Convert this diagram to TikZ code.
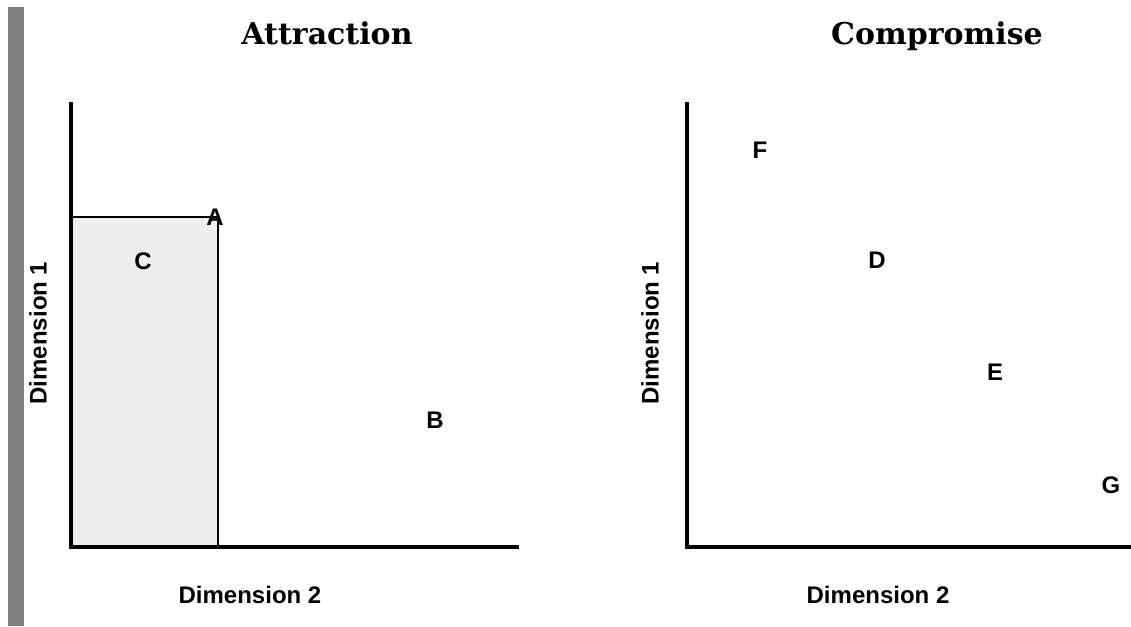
\documentclass[tikz,border=0pt]{standalone}
\usepackage{fontspec}
\setmainfont{DejaVu Serif}
\setsansfont{Liberation Sans}
\usetikzlibrary{positioning}
\definecolor{barcol}{HTML}{808080}
\definecolor{boxcol}{HTML}{EEEEEE}
\tikzset{
  ttl/.style={font=\rmfamily\bfseries\fontsize{30}{36}\selectfont, inner sep=0pt, anchor=base},
  lbl/.style={font=\sffamily\bfseries\fontsize{24}{28}\selectfont, inner sep=0pt},
  dimlbl/.style={lbl},
  axis/.style={line width=4pt, line join=miter},
  region/.style={draw, line width=2.5pt, fill=boxcol},
}

\begin{document}
\begin{tikzpicture}[x=1pt,y=-1pt]
\useasboundingbox (0,0) rectangle (1131,626);
% grey side bar
\fill[barcol] (8,7) rectangle (24,626);

% attraction panel
\coordinate (o1) at (71,547);
\coordinate (ytop1) at (71,102);
\coordinate (xend1) at (519,547);
\coordinate (rc1) at (218,217);
\draw[region] (o1) rectangle (rc1);
\draw[axis] (ytop1) -- (o1) -- (xend1);
\node[ttl] (ttlA) at (327,45) {Attraction};
\node[dimlbl] (dimA2) at (250,595) {Dimension 2};
\node[dimlbl, rotate=90] (dimA1) at (38,333) {Dimension 1};
\node[lbl] (A) at (215,217) {A};
\node[lbl] (C) at (143,261) {C};
\node[lbl] (B) at (435,420) {B};

% compromise panel
\coordinate (o2) at (687,547);
\coordinate (ytop2) at (687,102);
\coordinate (xend2) at (1131,547);
\draw[axis] (ytop2) -- (o2) -- (xend2);
\node[ttl] (ttlC) at (937,45) {Compromise};
\node[dimlbl] (dimC2) at (878,595) {Dimension 2};
\node[dimlbl, rotate=90] (dimC1) at (650,333) {Dimension 1};
\node[lbl] (F) at (760,150) {F};
\node[lbl] (D) at (877,260) {D};
\node[lbl] (E) at (995,372) {E};
\node[lbl] (G) at (1111,485) {G};
\end{tikzpicture}
\end{document}
